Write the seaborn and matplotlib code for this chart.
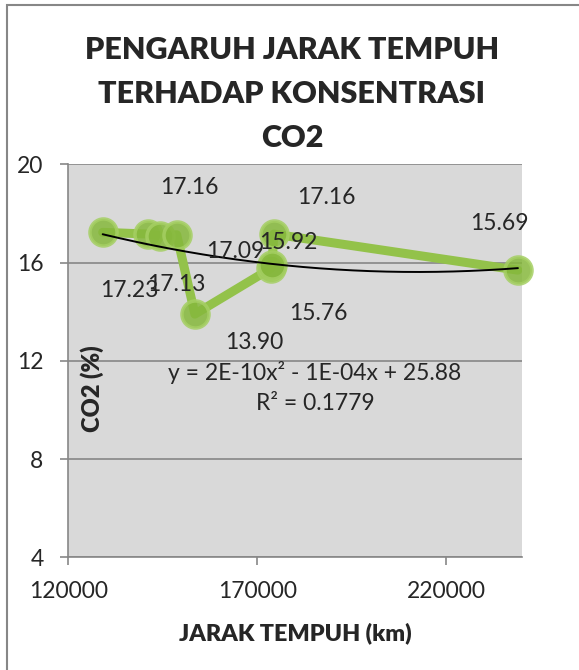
import numpy as np
import pandas as pd
import matplotlib
matplotlib.use("Agg")
import matplotlib.pyplot as plt
import seaborn as sns
from matplotlib.patches import Rectangle

# Data
jarak = [129100, 141100, 144300, 148700, 153500, 173600, 173900, 174400, 239000]
co2 = [17.23, 17.16, 17.09, 17.13, 13.90, 15.76, 15.92, 17.16, 15.69]
point_labels = ["17.23", "17.16", "17.09", "17.13", "13.90", "15.76", "15.92", "17.16", "15.69"]
# manual label offsets in pixels (dx, dy), like the dragged labels in the source
label_offsets = [(27, -58), (41, 47), (75, -16), (0, -50), (59, -28),
                 (48, -45), (16, 22), (53, 37), (-19, 47)]

x_ticks = [120000, 170000, 220000]
y_ticks = [4, 8, 12, 16, 20]
equation = "y = 2E-10x² - 1E-04x + 25.88"
r_squared = "R² = 0.1779"

df = pd.DataFrame({"jarak": jarak, "co2": co2})

sns.set_style("white")
plt.rcParams["font.family"] = ["Lato", "DejaVu Sans"]

W, H = 579, 670
fig = plt.figure(figsize=(W / 100, H / 100), dpi=100)
ax = fig.add_axes([68.3 / W, 1 - 557.3 / H, (521.7 - 68.3) / W, (557.3 - 164.3) / H])
ax.set_facecolor("#D9D9D9")

green = "#93C24A"
sns.lineplot(data=df, x="jarak", y="co2", sort=False, color=green, lw=6.5,
             solid_capstyle="round", ax=ax, zorder=3)
sns.scatterplot(data=df, x="jarak", y="co2", color="#86B83C", s=380,
                edgecolor="#A5CF63", linewidth=2.5, alpha=0.85, ax=ax, zorder=4,
                clip_on=False)

# polynomial (order 2) trendline
coef = np.polyfit(df["jarak"], df["co2"], 2)
xs = np.linspace(min(jarak), max(jarak), 200)
ax.plot(xs, np.polyval(coef, xs), color="black", lw=1.4, zorder=5)

for xv, yv, lab, (dx, dy) in zip(jarak, co2, point_labels, label_offsets):
    ax.annotate(lab, (xv, yv), xytext=(dx, dy), textcoords="offset pixels",
                ha="center", va="center", fontsize=16.5, zorder=6)

ax.set_xlim(120000, 240000)
ax.set_ylim(4, 20)
ax.set_xticks(x_ticks)
ax.set_yticks(y_ticks)
ax.set_xticklabels([str(t) for t in x_ticks])
ax.set_yticklabels([str(t) for t in y_ticks])
ax.tick_params(axis="both", labelsize=16.5, length=5.8, width=1.2, color="#878787",
               direction="out")
ax.tick_params(axis="x", pad=11)
ax.tick_params(axis="y", pad=12)
ax.tick_params(bottom=True, left=True)
ax.yaxis.grid(True, color="#878787", lw=1.2)
ax.set_axisbelow(True)
for side in ["top", "right"]:
    ax.spines[side].set_visible(False)
for side in ["left", "bottom"]:
    ax.spines[side].set_color("#878787")
    ax.spines[side].set_linewidth(1.2)
ax.set_xlabel("")
ax.set_ylabel("")

# axis titles and trendline equation (placed inside the chart like the source)
fig.text(295 / W, 1 - 633 / H, "JARAK TEMPUH (km)", ha="center", va="center",
         fontsize=16.8, fontweight="heavy")
fig.text(92 / W, 1 - 389 / H, "CO2 (%)", ha="center", va="center",
         fontsize=17, fontweight="heavy", rotation=90)
fig.text(315 / W, 1 - 372 / H, equation, ha="center", va="center", fontsize=16.5)
fig.text(315 / W, 1 - 404 / H, r_squared, ha="center", va="center", fontsize=16.5)

title_lines = ["PENGARUH JARAK TEMPUH", "TERHADAP KONSENTRASI", "CO2"]
title_y = [50, 94, 138]
for line, ty in zip(title_lines, title_y):
    fig.text(292 / W, 1 - ty / H, line, ha="center", va="center",
             fontsize=22, fontweight="heavy")

# chart area border
fig.patches.append(Rectangle((7 / W, -0.1), 1.2, 1 - 5 / H + 0.1, transform=fig.transFigure,
                             fill=False, edgecolor="#878787", lw=1.5))

fig.savefig("out.png", dpi=100)
